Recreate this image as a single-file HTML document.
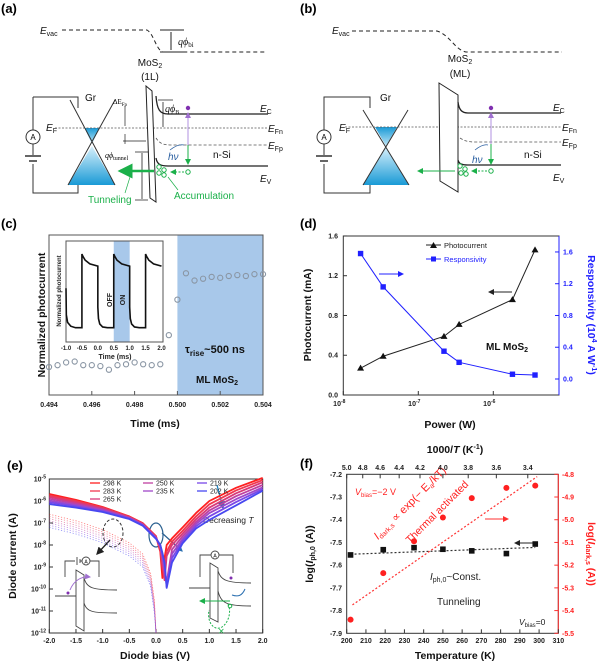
<!DOCTYPE html>
<html><head><meta charset="utf-8"><style>
html,body{margin:0;padding:0;background:#fff;}
svg{display:block;font-family:"Liberation Sans",sans-serif;}
.t{font-size:7px;font-weight:bold;fill:#222;}
.ttl{font-size:10.5px;font-weight:bold;fill:#111;}
.pl{font-size:13px;font-weight:bold;fill:#000;}
.d{font-size:10px;fill:#111;}
</style></head><body>
<svg id="fig" width="600" height="665" viewBox="0 0 600 665">
<defs>
<linearGradient id="gb" x1="0" y1="0" x2="0" y2="1"><stop offset="0" stop-color="#d8f0fb"/><stop offset="1" stop-color="#1a9ad6"/></linearGradient>
<linearGradient id="gt" x1="0" y1="0" x2="0" y2="1"><stop offset="0" stop-color="#1a9ad6"/><stop offset="1" stop-color="#bfe6f7"/></linearGradient>
<marker id="ag" markerWidth="6" markerHeight="6" refX="5" refY="3" orient="auto"><path d="M0,0 L6,3 L0,6Z" fill="#1bb04a"/></marker>
<marker id="ap" markerWidth="6" markerHeight="6" refX="5" refY="3" orient="auto"><path d="M0,0 L6,3 L0,6Z" fill="#a070d0"/></marker>
<marker id="ak" markerWidth="6" markerHeight="6" refX="5" refY="3" orient="auto"><path d="M0,0 L6,3 L0,6Z" fill="#222"/></marker>
<marker id="ab" markerWidth="6" markerHeight="6" refX="5" refY="3" orient="auto"><path d="M0,0 L6,3 L0,6Z" fill="#2a6fb0"/></marker>
<marker id="ar" markerWidth="6" markerHeight="6" refX="5" refY="3" orient="auto"><path d="M0,0 L6,3 L0,6Z" fill="#ff3030"/></marker>
<marker id="abl" markerWidth="6" markerHeight="6" refX="5" refY="3" orient="auto"><path d="M0,0 L6,3 L0,6Z" fill="#2020ff"/></marker>
</defs>

<!-- ========== Panel (a) ========== -->
<g>
<text class="pl" x="1" y="13">(a)</text>
<text class="d" x="40" y="34"><tspan font-style="italic">E</tspan><tspan font-size="7" dy="2">vac</tspan></text>
<path d="M62,30 L147,30 C154,34 156,50 163,52 L265,52" fill="none" stroke="#222" stroke-dasharray="4,3"/>
<path d="M160,30 L184,30 M160,52 L184,52 M171,32 L171,50" stroke="#222" fill="none"/>
<text class="d" x="178" y="45" font-family="Liberation Serif" font-style="italic">qϕ<tspan font-size="7" dy="2" font-style="normal">bi</tspan></text>
<text class="d" x="150" y="66" text-anchor="middle">MoS<tspan font-size="7" dy="2">2</tspan></text>
<text class="d" x="150" y="80" text-anchor="middle">(1L)</text>
<path d="M33,97 L78,97 L78,108 M33,97 L33,130 M33,144 L33,155 M33,164 L33,193 L78,193 L78,185" fill="none" stroke="#333"/>
<circle cx="33" cy="137" r="7" fill="#fff" stroke="#333"/>
<text x="33" y="140" font-size="8" text-anchor="middle">A</text>
<path d="M25,156 L41,156 M29,161 L37,161" stroke="#333" stroke-width="1.5"/>
<text class="d" x="85" y="101">Gr</text>
<polygon points="84.5,128 99.5,128 92,144" fill="url(#gt)"/>
<polygon points="92,146 68,185 115,185" fill="url(#gb)"/>
<path d="M70,100 L115,185 M115,100 L68,185" stroke="#333" fill="none"/>
<path d="M55,128 L268,128" stroke="#555" stroke-dasharray="2,1.5" stroke-width="0.8"/>
<text class="d" x="57" y="131" text-anchor="end"><tspan font-style="italic">E</tspan><tspan font-size="7" dy="2">F</tspan></text>
<path d="M146,86 L152,91 L156,202 L150,198 Z" fill="#fff" stroke="#222"/>
<path d="M156,96 C157,110 160,114 168,114 L268,114" fill="none" stroke="#222" stroke-width="1.3"/>
<path d="M156,158 C157,164 160,166 168,166 L268,166" fill="none" stroke="#222" stroke-width="1.3"/>
<path d="M156,138 C160,144 164,145 172,145 L268,145" fill="none" stroke="#555" stroke-dasharray="3,2" stroke-width="0.8"/>
<path d="M158,100 L173,100 M163,102 L163,127" stroke="#222" fill="none" stroke-width="0.8"/>
<text class="d" x="165" y="112" font-size="8" font-family="Liberation Serif" font-style="italic">qϕ<tspan font-size="6" dy="2" font-style="normal">B</tspan></text>
<text x="113" y="104" font-size="7" font-family="Liberation Serif">ΔE<tspan font-size="5" dy="2">Fp</tspan></text>
<path d="M125,106 L125,126 M125,144 L125,134 M123,141 L146,141" stroke="#222" stroke-width="0.7" fill="none"/>
<text x="105" y="158" font-size="8" font-family="Liberation Serif" font-style="italic">qϕ<tspan font-size="6" dy="2" font-style="normal">tunnel</tspan></text>
<path d="M135,152 L148,152 M135,200 L148,200 M142,153 L142,199" stroke="#222" stroke-width="0.8" fill="none"/>
<circle cx="188" cy="108" r="2.2" fill="#8030b0"/>
<path d="M188,145 L188,113" stroke="#b090e0" marker-end="url(#ap)"/>
<path d="M188,145 L188,164" stroke="#1bb04a" marker-end="url(#ag)"/>
<text x="168" y="160" font-size="10" fill="#2a5fa0" font-style="italic">hν</text>
<path d="M170,150 C175,146 180,144 184,145" stroke="#2a5fa0" fill="none" stroke-width="0.8"/>
<g fill="none" stroke="#1bb04a"><circle cx="159" cy="167" r="2.2"/><circle cx="164" cy="170" r="2.2"/><circle cx="159" cy="173" r="2.2"/><circle cx="164" cy="175" r="2.2"/></g>
<circle cx="188" cy="172" r="2.2" fill="none" stroke="#1bb04a"/>
<path d="M184,172 L171,172" stroke="#1bb04a" stroke-dasharray="2,1.5" marker-end="url(#ag)"/>
<path d="M154,171 L120,171" stroke="#1bb04a" stroke-width="2.5" marker-end="url(#ag)"/>
<path d="M130,177 L125,193 M168,177 L178,190" stroke="#1bb04a" stroke-width="0.7" fill="none"/>
<text x="88" y="203" font-size="10" fill="#1bb04a">Tunneling</text>
<text x="174" y="199" font-size="10" fill="#1bb04a">Accumulation</text>
<text class="d" x="260" y="112"><tspan font-style="italic">E</tspan><tspan font-size="7" dy="2">C</tspan></text>
<text class="d" x="268" y="132"><tspan font-style="italic">E</tspan><tspan font-size="7" dy="2">Fn</tspan></text>
<text class="d" x="268" y="149"><tspan font-style="italic">E</tspan><tspan font-size="7" dy="2">Fp</tspan></text>
<text class="d" x="260" y="182"><tspan font-style="italic">E</tspan><tspan font-size="7" dy="2">V</tspan></text>
<text class="d" x="213" y="158">n-Si</text>
</g>

<!-- ========== Panel (b) ========== -->
<g>
<text class="pl" x="300" y="13">(b)</text>
<text class="d" x="332" y="34"><tspan font-style="italic">E</tspan><tspan font-size="7" dy="2">vac</tspan></text>
<path d="M352,31 L437,31 C450,35 455,50 466,52 L562,52" fill="none" stroke="#222" stroke-dasharray="4,3"/>
<text class="d" x="460" y="62" text-anchor="middle">MoS<tspan font-size="7" dy="2">2</tspan></text>
<text class="d" x="460" y="77" text-anchor="middle">(ML)</text>
<path d="M370,108 L370,97 L324,97 L324,130 M324,144 L324,155 M324,164 L324,193 L370,193 L370,185" fill="none" stroke="#333"/>
<circle cx="324" cy="137" r="7" fill="#fff" stroke="#333"/>
<text x="324" y="140" font-size="8" text-anchor="middle">A</text>
<path d="M316,156 L332,156 M320,161 L328,161" stroke="#333" stroke-width="1.5"/>
<text class="d" x="380" y="101">Gr</text>
<polygon points="375,127 397,127 386,146" fill="url(#gt)"/>
<polygon points="386,147 363,185 409,185" fill="url(#gb)"/>
<path d="M363,110 L409,185 M408,110 L363,185" stroke="#333" fill="none"/>
<path d="M345,127 L562,127" stroke="#555" stroke-dasharray="2,1.5" stroke-width="0.8"/>
<text class="d" x="350" y="131" text-anchor="end"><tspan font-style="italic">E</tspan><tspan font-size="7" dy="2">F</tspan></text>
<path d="M439,83 L458,95 L458,192 L440,181 Z" fill="#fff" stroke="#222"/>
<path d="M458,102 C459,110 462,113 468,113 L561,113" fill="none" stroke="#222" stroke-width="1.3"/>
<path d="M458,160 C459,164 462,165 468,165 L561,165" fill="none" stroke="#222" stroke-width="1.3"/>
<path d="M460,138 C465,141 468,142 475,142 L561,142" fill="none" stroke="#555" stroke-dasharray="3,2" stroke-width="0.8"/>
<circle cx="491" cy="108" r="2.2" fill="#8030b0"/>
<path d="M491,144 L491,113" stroke="#b090e0" marker-end="url(#ap)"/>
<path d="M491,144 L491,164" stroke="#1bb04a" marker-end="url(#ag)"/>
<text x="472" y="163" font-size="10" fill="#2a5fa0" font-style="italic">hν</text>
<path d="M475,150 C480,146 484,144 488,145" stroke="#2a5fa0" fill="none" stroke-width="0.8"/>
<g fill="none" stroke="#1bb04a"><circle cx="460" cy="166" r="2.2"/><circle cx="465" cy="169" r="2.2"/><circle cx="461" cy="173" r="2.2"/><circle cx="466" cy="174" r="2.2"/></g>
<circle cx="491" cy="171" r="2.2" fill="none" stroke="#1bb04a"/>
<path d="M487,171 L472,171" stroke="#1bb04a" stroke-dasharray="2,1.5" marker-end="url(#ag)"/>
<path d="M455,171 L418,171" stroke="#1bb04a" stroke-width="1" marker-end="url(#ag)"/>
<text class="d" x="553" y="111"><tspan font-style="italic">E</tspan><tspan font-size="7" dy="2">C</tspan></text>
<text class="d" x="562" y="131"><tspan font-style="italic">E</tspan><tspan font-size="7" dy="2">Fn</tspan></text>
<text class="d" x="562" y="146"><tspan font-style="italic">E</tspan><tspan font-size="7" dy="2">Fp</tspan></text>
<text class="d" x="553" y="181"><tspan font-style="italic">E</tspan><tspan font-size="7" dy="2">V</tspan></text>
<text class="d" x="524" y="158">n-Si</text>
</g>

<!-- ========== Panel (c) static ========== -->
<g>
<text class="pl" x="1" y="228">(c)</text>
<rect x="177.4" y="235" width="85.6" height="160" fill="#a8c8ea"/>
<rect x="49" y="235" width="214" height="160" fill="none" stroke="#555"/>
<text class="ttl" transform="translate(45,315) rotate(-90)" text-anchor="middle" font-size="11">Normalized photocurrent</text>
<text class="ttl" x="155" y="427" text-anchor="middle">Time (ms)</text>
<text x="185" y="353" font-size="11" font-weight="bold" fill="#111">τ<tspan font-size="8" dy="3">rise</tspan><tspan dy="-3">~500 ns</tspan></text>
<text x="196" y="383" font-size="10" font-weight="bold" fill="#111">ML MoS<tspan font-size="7" dy="2">2</tspan></text>
<rect x="66" y="241" width="97" height="101" fill="#fff" stroke="#555"/>
<text transform="translate(61,291) rotate(-90)" text-anchor="middle" font-size="6" font-weight="bold" fill="#222">Normalized photocurrent</text>
<text x="115" y="359" text-anchor="middle" font-size="7" font-weight="bold" fill="#222">Time (ms)</text>
</g>

<!-- ========== Panel (d) static ========== -->
<g>
<text class="pl" x="300" y="228">(d)</text>
<rect x="343.3" y="236" width="215.7" height="159" fill="none" stroke="#333"/>
<line x1="559" y1="236" x2="559" y2="395" stroke="#2020ff"/>
<text class="ttl" transform="translate(311,315) rotate(-90)" text-anchor="middle">Photocurrent (mA)</text>
<text class="ttl" transform="translate(588,315) rotate(90)" text-anchor="middle" style="fill:#2020ff">Responsivity (10<tspan font-size="7" dy="-4">4</tspan><tspan dy="4"> A W</tspan><tspan font-size="7" dy="-4">-1</tspan><tspan dy="4">)</tspan></text>
<text class="ttl" x="450" y="428" text-anchor="middle">Power (W)</text>
<line x1="426" y1="245" x2="441" y2="245" stroke="#222"/>
<path d="M433.5,242 L437,248 L430,248Z" fill="#111"/>
<text x="444" y="248" font-size="7.5" fill="#222">Photocurrent</text>
<line x1="426" y1="259" x2="441" y2="259" stroke="#2020ff"/>
<rect x="431" y="256.5" width="5" height="5" fill="#2020ff"/>
<text x="444" y="262" font-size="7.5" fill="#2020ff">Responsivity</text>
<path d="M379,274 L403,274" stroke="#2020ff" marker-end="url(#abl)"/>
<path d="M512,292 L489,292" stroke="#222" marker-end="url(#ak)"/>
<text x="486" y="350" font-size="10" font-weight="bold" fill="#111">ML MoS<tspan font-size="7" dy="2">2</tspan></text>
</g>

<!-- ========== Panel (e) static ========== -->
<g>
<text class="pl" x="7" y="470">(e)</text>
<rect x="49.3" y="479" width="213.4" height="154" fill="none" stroke="#333"/>
<text class="ttl" transform="translate(16,556) rotate(-90)" text-anchor="middle">Diode current (A)</text>
<text class="ttl" x="155" y="659" text-anchor="middle">Diode bias (V)</text>
<text x="203" y="523" font-size="8.5" fill="#222">Decreasing <tspan font-style="italic">T</tspan></text>
<path d="M217,485 L223,508" stroke="#1a80c0" stroke-width="1.3" marker-end="url(#ab)"/>
<ellipse cx="156" cy="535" rx="7" ry="12" fill="none" stroke="#2a6090" stroke-width="1.2"/>
<path d="M162,533 L182,551" stroke="#2a6090" stroke-width="1.2" marker-end="url(#ab)"/>
<ellipse cx="113" cy="533" rx="10" ry="14" fill="none" stroke="#333" stroke-dasharray="3,2"/>
<path d="M110,540 L97,554" stroke="#222" stroke-width="1.3" marker-end="url(#ak)"/>
<g fill="none" stroke="#444" stroke-width="0.9">
<path d="M65,577 L65,561 L75,561 M77,557 L77,565 M80,559 L80,563 M80,561 L82,561 M90,561 L99,561 L99,577"/>
<circle cx="86" cy="561" r="4" fill="#fff"/>
<path d="M76,570 L84,575 L84,631 L76,626 Z"/>
<path d="M55,596 L76,596"/>
<path d="M84,578 C87,588 92,590 117,590"/>
<path d="M84,603 C87,612 92,613 117,613"/>
</g>
<text x="86" y="563.5" font-size="5" text-anchor="middle">A</text>
<circle cx="68" cy="593" r="1.5" fill="#8030b0"/>
<path d="M70,590 C74,580 82,576 90,577" stroke="#a070d0" fill="none" marker-end="url(#ap)"/>
<g fill="none" stroke="#444" stroke-width="0.9">
<path d="M200,577 L200,555 L211,555 M219,555 L233,555 L233,573"/>
<circle cx="215" cy="555" r="4" fill="#fff"/>
<path d="M210,563 L218,568 L218,622 L210,618 Z"/>
<path d="M189,588 L210,588"/>
<path d="M218,571 C221,580 226,583 251,583"/>
<path d="M218,591 C221,603 226,606 251,606"/>
</g>
<text x="215" y="557.5" font-size="5" text-anchor="middle">A</text>
<circle cx="231" cy="578" r="1.5" fill="#8030b0"/>
<path d="M245,589 C242,596 238,597 232,595" stroke="#2a6fb0" fill="none"/>
<path d="M230,601 L200,601" stroke="#1bb04a" marker-end="url(#ag)"/>
<path d="M228,604 C232,612 228,625 220,628 C212,630 207,620 209,610" stroke="#1bb04a" stroke-dasharray="2,1.5" fill="none"/>
<text x="218" y="634" font-size="8" fill="#1bb04a">✕</text>
<circle cx="230" cy="606" r="1.8" fill="none" stroke="#1bb04a"/>
</g>

<!-- ========== Panel (f) static ========== -->
<g>
<text class="pl" x="300" y="468">(f)</text>
<rect x="346.7" y="474.3" width="211.6" height="159" fill="none" stroke="#333"/>
<line x1="558.3" y1="474.3" x2="558.3" y2="633.3" stroke="#ff3030"/>
<text class="ttl" x="455" y="453" text-anchor="middle">1000/<tspan font-style="italic">T</tspan> (K<tspan font-size="7" dy="-4">-1</tspan><tspan dy="4">)</tspan></text>
<text class="ttl" x="455" y="659" text-anchor="middle">Temperature (K)</text>
<text class="ttl" transform="translate(313,554) rotate(-90)" text-anchor="middle">log(<tspan font-style="italic">I</tspan><tspan font-size="7" dy="2">ph,0</tspan><tspan dy="-2"> (A))</tspan></text>
<text class="ttl" transform="translate(588,554) rotate(90)" text-anchor="middle" style="fill:#ff2020">log(<tspan font-style="italic">I</tspan><tspan font-size="7" dy="2">dark,s</tspan><tspan dy="-2"> (A))</tspan></text>
<text x="355" y="495" font-size="9" fill="#ff2020"><tspan font-style="italic">V</tspan><tspan font-size="6" dy="2">bias</tspan><tspan dy="-2">=−2 V</tspan></text>
<text transform="translate(378,540) rotate(-45)" font-size="11" fill="#ff2020"><tspan font-style="italic">I</tspan><tspan font-size="7" dy="2">dark,s</tspan><tspan dy="-2"> ∝ exp(− E</tspan><tspan font-size="7" dy="2">a</tspan><tspan dy="-2">/kT)</tspan></text>
<text transform="translate(410,544) rotate(-45)" font-size="10.5" fill="#ff2020">Thermal activated</text>
<path d="M485,519 L508,519" stroke="#ff3030" marker-end="url(#ar)"/>
<path d="M538,543 L515,543" stroke="#222" marker-end="url(#ak)"/>
<text x="430" y="580" font-size="10" fill="#222"><tspan font-style="italic">I</tspan><tspan font-size="7" dy="2">ph,0</tspan><tspan dy="-2">~Const.</tspan></text>
<text x="437" y="605" font-size="10" fill="#222">Tunneling</text>
<text x="519" y="625" font-size="8.5" fill="#222"><tspan font-style="italic">V</tspan><tspan font-size="6" dy="2">bias</tspan><tspan dy="-2">=0</tspan></text>
</g>
<g id="dyn"></g>
<g>
<text transform="translate(112,300) rotate(-90)" text-anchor="middle" font-size="7" font-weight="bold" fill="#222">OFF</text>
<text transform="translate(125,300) rotate(-90)" text-anchor="middle" font-size="7" font-weight="bold" fill="#222">ON</text>
</g>
</svg>
<script>
// ---- Panel (c) data ----
const cTimes = [0.4940,0.4944,0.4948,0.4952,0.4956,0.4960,0.4964,0.4968,0.4972,0.4976,0.4980,0.4984,0.4988,0.4992,0.4996,0.5000,0.5004,0.5008,0.5012,0.5016,0.5020,0.5024,0.5028,0.5032,0.5036,0.5040];
const cValues = [0.00,0.02,0.05,0.06,0.02,0.02,0.01,-0.03,0.02,0.03,0.05,0.03,0.02,0.03,0.35,0.74,1.03,0.95,0.97,0.99,0.98,1.00,1.01,1.00,1.02,1.02];
const cTicks = [0.494,0.496,0.498,0.500,0.502,0.504];
const insetTimes = [-1.0,-0.99,-0.95,-0.85,-0.7,-0.5,-0.5,-0.47,-0.4,-0.25,0,0,0.02,0.06,0.15,0.3,0.5,0.5,0.53,0.6,0.75,1.0,1.0,1.02,1.06,1.15,1.3,1.5,1.5,1.53,1.6,1.75,2.0];
const insetValues = [0.55,0.2,0.1,0.05,0.03,0.03,1.0,0.97,0.92,0.87,0.84,0.3,0.15,0.08,0.04,0.03,0.03,1.0,0.97,0.92,0.87,0.84,0.3,0.15,0.08,0.04,0.03,0.03,1.0,0.97,0.92,0.87,0.84];
const insetTicks = [-1.0,-0.5,0.0,0.5,1.0,1.5,2.0];
const insetOn = [0.5,1.0];
// ---- Panel (d) data ----
const dPower = [1.7e-8,3.4e-8,2.2e-7,3.5e-7,1.8e-6,3.6e-6];
const dPhotocurrent = [0.27,0.39,0.59,0.71,0.96,1.46];
const dResponsivity = [1.58,1.16,0.35,0.21,0.06,0.05];
const dLeftTicks = [0.0,0.4,0.8,1.2,1.6];
const dRightTicks = [0.0,0.4,0.8,1.2,1.6];
const dXTicks = [-8,-7,-6];
// ---- Panel (e) data ----
const eTemps = ['298 K','283 K','265 K','250 K','235 K','219 K','202 K'];
const eColors = ['#ff2020','#f03850','#d83a78','#c040a0','#a048c8','#7a48e8','#4848f0'];
const eBias = [-2,-1.5,-1,-0.5,-0.25,0,0.08,0.12,0.16,0.2,0.3,0.5,0.75,1,1.5,2];
const eI298 = [-5.68,-5.95,-6.27,-6.7,-7.0,-7.6,-8.3,-9.5,-8.6,-8.0,-7.7,-7.2,-6.55,-6.0,-5.4,-4.95];
const eI283 = [-5.75,-6.0,-6.3,-6.72,-7.02,-7.62,-8.2,-9.0,-9.4,-8.3,-7.85,-7.35,-6.7,-6.15,-5.52,-5.05];
const eI265 = [-5.82,-6.06,-6.34,-6.74,-7.04,-7.64,-8.15,-8.8,-9.6,-8.5,-8.0,-7.48,-6.83,-6.3,-5.65,-5.15];
const eI250 = [-5.9,-6.12,-6.38,-6.76,-7.06,-7.66,-8.1,-8.6,-9.3,-9.7,-8.2,-7.6,-6.95,-6.43,-5.78,-5.27];
const eI235 = [-5.98,-6.18,-6.42,-6.78,-7.08,-7.68,-8.05,-8.5,-9.0,-9.8,-8.4,-7.72,-7.05,-6.55,-5.92,-5.38];
const eI219 = [-6.06,-6.24,-6.46,-6.8,-7.1,-7.7,-8.0,-8.4,-8.9,-9.9,-8.6,-7.82,-7.15,-6.7,-6.05,-5.46];
const eI202 = [-6.14,-6.3,-6.5,-6.82,-7.12,-7.72,-8.0,-8.35,-8.8,-9.95,-8.8,-7.92,-7.25,-6.86,-6.2,-5.53];
const eDarkBias = [-2,-1.5,-1,-0.5,-0.25,-0.1,-0.03,0];
const eD298 = [-6.6,-6.9,-7.3,-7.9,-8.4,-9.3,-10.5,-12];
const eD283 = [-6.7,-7.0,-7.4,-8.0,-8.5,-9.4,-10.6,-12];
const eD265 = [-6.8,-7.1,-7.5,-8.1,-8.6,-9.5,-10.7,-12];
const eD250 = [-6.9,-7.2,-7.6,-8.2,-8.7,-9.6,-10.8,-12];
const eD235 = [-7.0,-7.3,-7.7,-8.3,-8.8,-9.7,-10.9,-12];
const eD219 = [-7.1,-7.4,-7.8,-8.4,-8.9,-9.8,-11.0,-12];
const eD202 = [-7.2,-7.5,-7.9,-8.5,-9.0,-9.9,-11.1,-12];
const eXTicks = [-2.0,-1.5,-1.0,-0.5,0.0,0.5,1.0,1.5,2.0];
const eYTicks = [-5,-6,-7,-8,-9,-10,-11,-12];
// ---- Panel (f) data ----
const fTemp = [202,219,235,250,265,283,298];
const fIph = [-7.555,-7.532,-7.523,-7.530,-7.537,-7.549,-7.507];
const fIdark = [-5.44,-5.235,-5.095,-4.99,-4.905,-4.86,-4.85];
const fIphFitT = [202,298];
const fIphFit = [-7.552,-7.522];
const fDarkFitT = [203,299];
const fDarkFit = [-5.375,-4.81];
const fXTicks = [200,210,220,230,240,250,260,270,280,290,300,310];
const fTopTicks = [5.0,4.8,4.6,4.4,4.2,4.0,3.8,3.6,3.4];
const fLeftTicks = [-7.2,-7.3,-7.4,-7.5,-7.6,-7.7,-7.8,-7.9];
const fRightTicks = [-4.8,-4.9,-5.0,-5.1,-5.2,-5.3,-5.4,-5.5];

const NS='http://www.w3.org/2000/svg';
const root=document.getElementById('dyn');
function mk(tag, attrs){const e=document.createElementNS(NS,tag);for(const k in attrs)e.setAttribute(k,attrs[k]);root.appendChild(e);return e;}
function pts(xs,ys,fx,fy){return xs.map((x,i)=>fx(x).toFixed(2)+','+fy(ys[i]).toFixed(2)).join(' ');}

const xC=t=>49+(t-0.494)/0.010*214, yC=v=>367-v*91;
const xI=t=>66+(t+1)/3*95.5, yI=v=>330-v*76;
const xD=p=>343.3+(Math.log10(p)+8)*75, yDL=v=>395-v*99.4, yDR=v=>379-v*79.4;
const xE=v=>49.3+(v+2)/4*213.4, yE=l=>479+(-5-l)*22;
const xF=T=>346.7+(T-200)*1.924, yFL=v=>474.3+(-7.2-v)/0.7*159, yFR=v=>474.3+(-4.8-v)/0.7*159;

// ---- (c) ----
cTicks.forEach(t=>{
  const tk=mk('line',{x1:xC(t),x2:xC(t),y1:395,y2:391,stroke:'#555'});
  
  
  const lb=mk('text',{x:xC(t),y:407,'text-anchor':'middle',class:'t'});
  lb.textContent=t.toFixed(3);
  
  
});
cTimes.forEach((t,i)=>{
  const c=mk('circle',{cx:xC(t),cy:yC(cValues[i]),r:2.6,fill:'none',stroke:'#8a96a4','stroke-width':1.1});
  
  
});
const onR=mk('rect',{x:xI(insetOn[0]),y:241.5,width:xI(insetOn[1])-xI(insetOn[0]),height:100,fill:'#a8c8ea'});


const insL=mk('polyline',{points:pts(insetTimes,insetValues,xI,yI),fill:'none',stroke:'#111','stroke-width':1.6});


insetTicks.forEach(t=>{
  const lb=mk('text',{x:xI(t),y:350,'text-anchor':'middle','font-size':6,'font-weight':'bold',fill:'#222'});
  lb.textContent=t.toFixed(1);
  
  
});

// ---- (d) ----
dLeftTicks.forEach(v=>{
  const lb=mk('text',{x:338,y:yDL(v)+2.5,'text-anchor':'end',class:'t'});
  lb.textContent=v.toFixed(1);
  
  
  const tk=mk('line',{x1:343.3,x2:347,y1:yDL(v),y2:yDL(v),stroke:'#333'});
  
  
});
dRightTicks.forEach(v=>{
  const lb=mk('text',{x:563,y:yDR(v)+2.5,class:'t',style:'fill:#2020ff'});
  lb.textContent=v.toFixed(1);
  
  
  const tk=mk('line',{x1:555,x2:559,y1:yDR(v),y2:yDR(v),stroke:'#2020ff'});
  
  
});
dXTicks.forEach(e=>{
  const x=xD(Math.pow(10,e));
  const lb=mk('text',{x:x-4,y:406,'text-anchor':'middle',class:'t'});
  lb.innerHTML='10<tspan font-size="5" dy="-3">'+e+'</tspan>';
  
  
  const tk=mk('line',{x1:x,x2:x,y1:395,y2:391,stroke:'#333'});
  
  
});
const pcL=mk('polyline',{points:pts(dPower,dPhotocurrent,xD,yDL),fill:'none',stroke:'#222','stroke-width':1});


const rsL=mk('polyline',{points:pts(dPower,dResponsivity,xD,yDR),fill:'none',stroke:'#2020ff','stroke-width':1});


dPower.forEach((p,i)=>{
  const x=xD(p), y=yDL(dPhotocurrent[i]);
  const tri=mk('path',{d:`M${x},${y-3.5} L${x+3.5},${y+2.5} L${x-3.5},${y+2.5}Z`,fill:'#111'});
  
  
  const y2=yDR(dResponsivity[i]);
  const sq=mk('rect',{x:x-2.7,y:y2-2.7,width:5.4,height:5.4,fill:'#2020ff'});
  
  
});

// ---- (e) ----
eXTicks.forEach(v=>{
  const lb=mk('text',{x:xE(v),y:643,'text-anchor':'middle',class:'t'});
  lb.textContent=v.toFixed(1);
  
  
  const tk=mk('line',{x1:xE(v),x2:xE(v),y1:633,y2:629,stroke:'#333'});
  
  
});
eYTicks.forEach(l=>{
  const lb=mk('text',{x:46,y:yE(l)+2.5,'text-anchor':'end',class:'t'});
  lb.innerHTML='10<tspan font-size="5" dy="-3">'+l+'</tspan>';
  
  
  const tk=mk('line',{x1:49.3,x2:53,y1:yE(l),y2:yE(l),stroke:'#333'});
  
  
});
const eLight=[eI298,eI283,eI265,eI250,eI235,eI219,eI202];
const eDark=[eD298,eD283,eD265,eD250,eD235,eD219,eD202];
eDark.forEach((s,k)=>{
  const l=mk('polyline',{points:pts(eDarkBias,s,xE,yE),fill:'none',stroke:eColors[k],'stroke-width':0.8,'stroke-dasharray':'1.2,1.8',opacity:0.6});
  
  
});
eLight.forEach((s,k)=>{
  const l=mk('polyline',{points:pts(eBias,s,xE,yE),fill:'none',stroke:eColors[k],'stroke-width':1.8,'stroke-linejoin':'round'});
  
  
});
const legPos=[[90,483],[90,491],[90,499],[143,483],[143,491],[197,483],[197,491]];
eTemps.forEach((t,k)=>{
  const [x,y]=legPos[k];
  const ln=mk('line',{x1:x,x2:x+10,y1:y,y2:y,stroke:eColors[k],'stroke-width':1.3});
  
  
  const tx=mk('text',{x:x+13,y:y+2.5,'font-size':7,fill:'#222'});
  tx.textContent=t;
  
  
});

// ---- (f) ----
fXTicks.forEach(T=>{
  const lb=mk('text',{x:xF(T),y:643,'text-anchor':'middle',class:'t'});
  lb.textContent=T;
  
  
  const tk=mk('line',{x1:xF(T),x2:xF(T),y1:633.3,y2:629.3,stroke:'#333'});
  
  
});
fTopTicks.forEach(v=>{
  const x=xF(1000/v);
  const lb=mk('text',{x:x,y:470,'text-anchor':'middle',class:'t'});
  lb.textContent=v.toFixed(1);
  
  
  const tk=mk('line',{x1:x,x2:x,y1:474.3,y2:478.3,stroke:'#333'});
  
  
});
fLeftTicks.forEach(v=>{
  const lb=mk('text',{x:342,y:yFL(v)+2.5,'text-anchor':'end',class:'t'});
  lb.textContent=v.toFixed(1);
  
  
});
fRightTicks.forEach(v=>{
  const lb=mk('text',{x:562,y:yFR(v)+2.5,class:'t',style:'fill:#ff2020'});
  lb.textContent=v.toFixed(1);
  
  
  const tk=mk('line',{x1:554.3,x2:558.3,y1:yFR(v),y2:yFR(v),stroke:'#ff3030'});
  
  
});
const f1=mk('polyline',{points:pts(fIphFitT,fIphFit,xF,yFL),fill:'none',stroke:'#333','stroke-dasharray':'2,2','stroke-width':1.2});


const f2=mk('polyline',{points:pts(fDarkFitT,fDarkFit,xF,yFR),fill:'none',stroke:'#ff3030','stroke-dasharray':'2,2','stroke-width':1.2});


fTemp.forEach((T,i)=>{
  const sq=mk('rect',{x:xF(T)-2.8,y:yFL(fIph[i])-2.8,width:5.6,height:5.6,fill:'#111'});
  
  
  const c=mk('circle',{cx:xF(T),cy:yFR(fIdark[i]),r:3,fill:'#ff2020'});
  
  
});
</script>
</body></html>
